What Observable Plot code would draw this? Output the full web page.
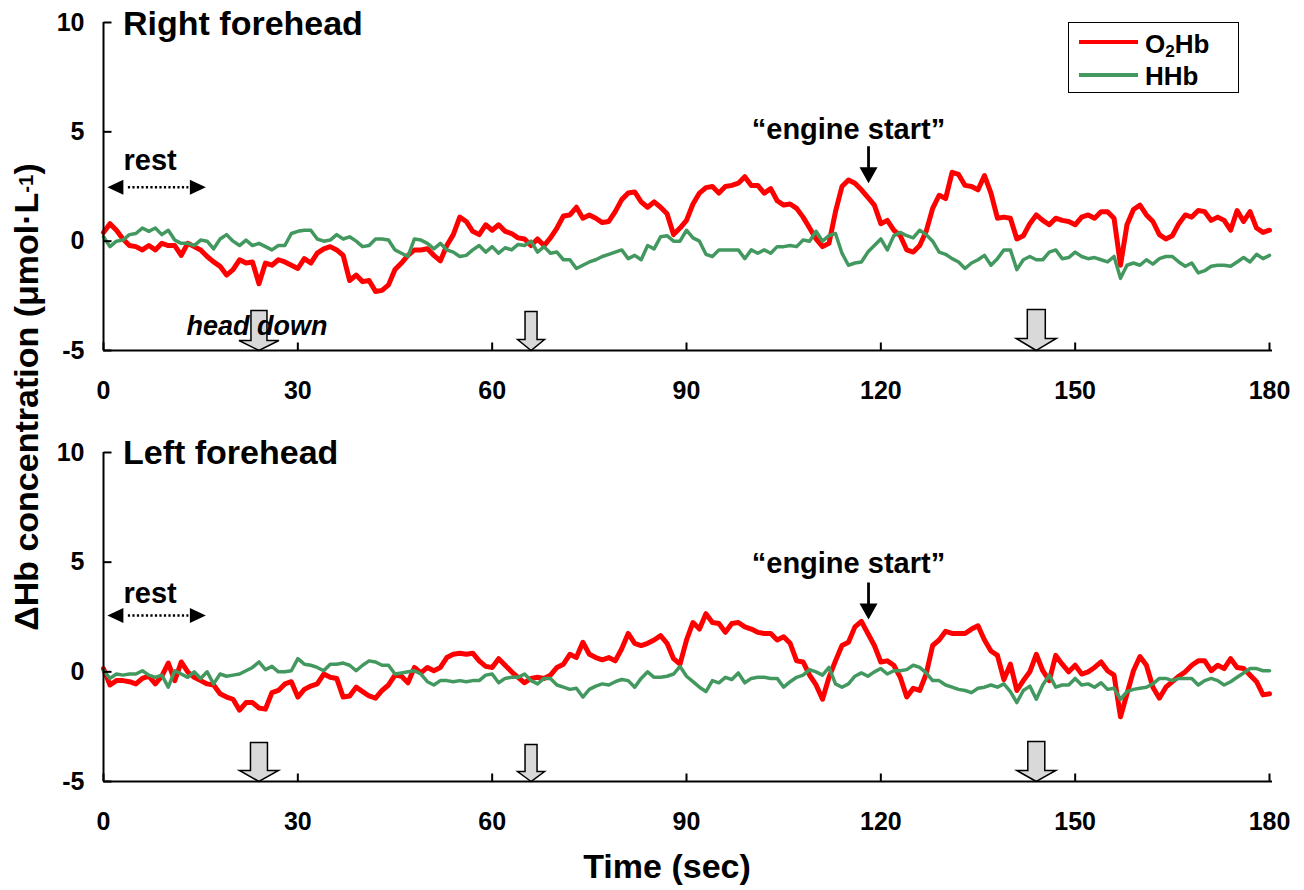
<!DOCTYPE html>
<html>
<head>
<meta charset="utf-8">
<script src="https://cdn.jsdelivr.net/npm/d3@7"></script>
<script src="https://cdn.jsdelivr.net/npm/@observablehq/plot@0.6"></script>
<style>
  body { margin: 0; background: #fff; }
  #wrap { position: relative; width: 1304px; height: 890px; overflow: hidden; background: #fff;
          font-family: 'Liberation Sans', Arial, sans-serif; font-weight: bold; color: #000; }
  #top, #bottom { position: absolute; left: 0; }
  #top { top: 0; }
  #bottom { top: 430px; }
  .lbl { position: absolute; white-space: nowrap; line-height: 1; }
  #ytitle { left: 26px; top: 397px; font-size: 34px; transform: translate(-50%, -50%) rotate(-90deg); }
  #xtitle { left: 667px; top: 866px; font-size: 34px; transform: translate(-50%, -50%); }
  #ytitle sup { font-size: 0.6em; vertical-align: 0.25em; line-height: 0; }
  #legend { position: absolute; left: 1068px; top: 22px; width: 171px; height: 71px; box-sizing: border-box; border: 1.5px solid #000; background: #fff; }
  .sw { position: absolute; }
  .lt { position: absolute; font-size: 26px; transform: translateY(-50%); }
  .lt sub { font-size: 0.66em; vertical-align: -0.25em; line-height: 0; }
</style>
</head>
<body>
<div id="wrap">
  <div id="top"></div>
  <div id="bottom"></div>
  <div class="lbl" id="ytitle">ΔHb concentration (μmol·L<sup>-1</sup>)</div>
  <div class="lbl" id="xtitle">Time (sec)</div>
  <div id="legend"></div>
</div>
<script>
// ---- data (1-second samples) ----
const seconds = d3.range(0, 181);
const xTicks = [0, 30, 60, 90, 120, 150, 180];
const yTicks = [-5, 0, 5, 10];
const headDownTimes = [24, 66, 144];
const panelTitles = ["Right forehead", "Left forehead"];

const rightO2Hb = [
  0.4, 0.8, 0.5, 0.1, -0.2, -0.25, -0.4, -0.2, -0.4, -0.1,
  -0.2, -0.2, -0.65, -0.1, -0.25, -0.4, -0.7, -0.95, -1.15, -1.55,
  -1.3, -0.85, -1.0, -0.95, -1.95, -1.0, -1.1, -0.85, -0.95, -1.1,
  -1.25, -0.8, -1.0, -0.55, -0.35, -0.25, -0.4, -0.65, -1.8, -1.55,
  -1.85, -1.8, -2.3, -2.25, -2.0, -1.3, -1.0, -0.65, -0.4, -0.4,
  -0.35, -0.65, -0.9, -0.2, 0.3, 1.1, 0.9, 0.45, 0.3, 0.75,
  0.5,
  0.75, 0.45, 0.35, 0.15, 0.1, -0.2, 0.1, -0.2, 0.15, 0.6,
  1.15, 1.2, 1.55, 1.05, 1.2, 1.05, 0.85, 0.9, 1.35, 1.9,
  2.2, 2.25, 1.8, 1.55, 1.8, 1.55, 1.25, 0.3, 0.6, 0.95,
  1.7, 2.2, 2.45, 2.5, 2.2, 2.5, 2.55, 2.65, 2.95, 2.55,
  2.55, 2.2, 2.4, 1.85, 1.65, 1.7, 1.5, 1.1, 0.6, 0.1,
  -0.25, -0.1, 1.35, 2.5, 2.8, 2.65, 2.35, 2.0, 1.65, 0.8,
  0.95, 0.5, 0.25, -0.4, -0.5, -0.2, 0.45, 1.5, 2.1, 1.95,
  3.15, 3.05, 2.55, 2.5, 2.35, 3.0, 2.2, 1.05, 1.1, 1.05,
  0.1, 0.25, 0.8, 1.2, 0.95, 0.75, 1.05, 0.95, 0.9, 0.75,
  1.1, 1.2, 1.05, 1.35, 1.35, 1.05, -1.1, 0.75, 1.45, 1.65,
  1.2, 0.9, 0.3, 0.1, 0.25, 0.8, 1.2, 1.1, 1.4, 1.35,
  0.95, 1.1, 0.95, 0.5, 1.4, 0.9, 1.35, 0.6, 0.4, 0.5
];
const rightHHb = [
  0.2, -0.25, 0.0, 0.05, 0.3, 0.35, 0.6, 0.45, 0.6, 0.3,
  0.5, 0.05, -0.1, -0.1, -0.2, 0.05, 0.0, -0.35, 0.1, 0.3,
  0.0, -0.2, 0.05, -0.2, -0.1, -0.25, -0.4, -0.2, -0.2, 0.35,
  0.45, 0.5, 0.5, 0.1, 0.0, 0.05, 0.3, 0.1, 0.2, 0.0,
  -0.25, -0.2, 0.1, 0.1, 0.05, -0.4, -0.55, -0.7, 0.1, 0.05,
  -0.1, -0.35, -0.1, -0.4, -0.5, -0.7, -0.65, -0.4, -0.2, -0.5,
  -0.25,
  -0.55, -0.3, -0.4, -0.15, -0.2, 0.0, -0.5, -0.25, -0.55, -0.5,
  -0.85, -0.85, -1.25, -1.1, -0.95, -0.85, -0.7, -0.6, -0.5, -0.4,
  -0.8, -0.65, -0.85, -0.2, -0.35, 0.2, 0.25, 0.0, 0.0, 0.5,
  0.15, 0.0, -0.6, -0.7, -0.4, -0.4, -0.4, -0.4, -0.8, -0.4,
  -0.55, -0.4, -0.55, -0.25, -0.25, -0.2, -0.25, 0.05, 0.0, 0.45,
  0.0, 0.25, 0.35, -0.55, -1.1, -1.0, -0.95, -0.5, -0.2, 0.1,
  -0.4, 0.25, 0.4, 0.25, 0.15, 0.5, 0.3, 0.0, -0.5, -0.6,
  -0.8, -0.95, -1.25, -1.0, -0.85, -0.65, -1.1, -0.8, -0.4, -0.4,
  -1.3, -0.85, -0.7, -0.85, -0.85, -0.5, -0.4, -0.8, -0.75, -0.5,
  -0.7, -0.8, -0.75, -0.85, -0.95, -0.7, -1.7, -1.1, -1.0, -1.1,
  -0.85, -1.05, -0.8, -0.7, -0.7, -0.95, -1.15, -1.0, -1.45, -1.35,
  -1.15, -1.1, -1.1, -1.15, -0.95, -0.75, -0.95, -0.6, -0.8, -0.65
];
const leftO2Hb = [
  0.15, -0.6, -0.4, -0.4, -0.45, -0.55, -0.3, -0.2, -0.55, -0.2,
  0.4, -0.4, 0.45, 0.0, -0.25, -0.4, -0.55, -0.6, -1.0, -1.15,
  -1.25, -1.75, -1.4, -1.4, -1.65, -1.7, -0.95, -0.85, -0.55, -0.45,
  -1.15, -0.8, -0.65, -0.55, -0.1, -0.25, -0.3, -1.15, -1.1, -0.7,
  -0.9, -1.1, -1.2, -0.85, -0.6, -0.15, -0.2, -0.5, 0.2, -0.05,
  0.2, 0.05, 0.2, 0.65, 0.8, 0.85, 0.8, 0.85, 0.5, 0.25,
  0.2,
  0.6, 0.3, 0.0, -0.25, -0.5, -0.3, -0.25, -0.3, -0.15, 0.2,
  0.35, 0.8, 0.65, 1.35, 0.8, 0.65, 0.55, 0.65, 0.5, 1.05,
  1.75, 1.3, 1.2, 1.3, 1.45, 1.65, 1.3, 0.6, 0.35, 1.45,
  2.25, 1.95, 2.65, 2.25, 2.2, 1.8, 2.2, 2.25, 2.05, 1.95,
  1.8, 1.75, 1.75, 1.45, 1.6, 1.3, 0.5, 0.45, -0.15, -0.6,
  -1.25, -0.25, 0.5, 1.2, 1.35, 2.05, 2.3, 1.75, 1.2, 0.45,
  0.5, 0.3, -0.25, -1.15, -0.75, -0.85, -0.1, 1.2, 1.45, 1.85,
  1.75, 1.75, 1.75, 1.95, 2.1, 1.45, 0.95, 0.75, -0.35, 0.35,
  -0.85, -0.4, 0.0, 0.8, 0.05, -0.4, 0.75, 0.35, 0.0, 0.3,
  -0.1, 0.0, 0.2, 0.45, 0.05, -0.15, -2.05, -1.0, 0.05, 0.7,
  0.3, -0.7, -1.2, -0.7, -0.45, -0.2, 0.0, 0.3, 0.5, 0.5,
  0.05, 0.3, 0.15, 0.6, 0.2, 0.15, -0.15, -0.45, -1.05, -1.0
];
const leftHHb = [
  0.05, -0.3, -0.1, -0.15, -0.1, -0.1, 0.05, -0.15, -0.25, -0.15,
  -0.7, 0.05, -0.1, -0.25, 0.0, -0.3, 0.0, -0.55, -0.1, -0.2,
  -0.15, -0.1, 0.05, 0.2, 0.45, 0.1, 0.25, 0.0, 0.0, 0.05,
  0.6, 0.35, 0.3, 0.2, 0.05, 0.35, 0.35, 0.4, 0.3, 0.05,
  0.3, 0.5, 0.45, 0.3, 0.3, -0.1, -0.05, 0.0, 0.05, -0.1,
  -0.45, -0.6, -0.4, -0.4, -0.45, -0.4, -0.45, -0.4, -0.4, -0.15,
  -0.1,
  -0.5, -0.3, -0.25, -0.25, -0.1, -0.4, -0.55, -0.3, -0.3, -0.6,
  -0.7, -0.8, -0.75, -1.15, -0.8, -0.65, -0.55, -0.6, -0.45, -0.35,
  -0.4, -0.7, -0.3, 0.0, -0.25, -0.25, -0.2, -0.1, 0.25, -0.2,
  -0.45, -0.7, -0.9, -0.4, -0.5, -0.25, -0.35, -0.05, -0.5, -0.3,
  -0.25, -0.25, -0.3, -0.3, -0.7, -0.45, -0.25, -0.15, 0.1, 0.0,
  -0.15, 0.2, -0.55, -0.7, -0.55, -0.2, -0.05, -0.2, 0.0, 0.15,
  -0.1, 0.05, 0.05, 0.1, 0.3, 0.2, -0.05, -0.4, -0.4, -0.6,
  -0.7, -0.8, -0.85, -0.95, -0.75, -0.7, -0.6, -0.7, -0.55, -0.9,
  -1.4, -0.85, -0.65, -1.25, -0.6, -0.15, -0.7, -0.6, -0.6, -0.3,
  -0.6, -0.55, -0.7, -0.5, -0.8, -0.75, -1.25, -0.9, -0.8, -0.75,
  -0.7, -0.55, -0.3, -0.3, -0.4, -0.3, -0.3, -0.3, -0.6, -0.4,
  -0.3, -0.4, -0.6, -0.45, -0.25, -0.05, 0.15, 0.15, 0.05, 0.05
];

// ---- styles ----
const RED = "#ff0000";
const GREEN = "#43985f";
const FONT = "'Liberation Sans', Arial, sans-serif";

const tickShape = {draw(c, l) { c.moveTo(0, 0); c.lineTo(0, -l); }};
const blockArrow = (bh, hh, hl) => ({draw(c, l) {
  c.moveTo(0, -l); c.lineTo(hh, -l + hl); c.lineTo(bh, -l + hl); c.lineTo(bh, 0);
  c.lineTo(-bh, 0); c.lineTo(-bh, -l + hl); c.lineTo(-hh, -l + hl); c.closePath();
}});
const solidArrow = {draw(c, l) {
  const hl = 16, hh = 9, s = 1.4;
  c.moveTo(0, -l); c.lineTo(hh, -l + hl); c.lineTo(s, -l + hl); c.lineTo(s, 0);
  c.lineTo(-s, 0); c.lineTo(-s, -l + hl); c.lineTo(-hh, -l + hl); c.closePath();
}};
const triHead = {draw(c, l) { c.moveTo(0, -l); c.lineTo(7.5, 0); c.lineTo(-7.5, 0); c.closePath(); }};

function panel(cfg) {
  const o2Rows = seconds.map((t, i) => ({t, v: cfg.o2[i]}));
  const hhbRows = seconds.map((t, i) => ({t, v: cfg.hhb[i]}));
  const arrows = headDownTimes.map((t, i) => {
    const a = cfg.arrowDims[i];
    return Plot.vector([t], {x: d => d, y: -5, length: a.l, rotate: 180, anchor: "end",
      shape: blockArrow(a.bh, a.hh, a.hl), fill: "#d9d9d9", stroke: "black", strokeWidth: 1.5, strokeLinejoin: "miter"});
  });
  return Plot.plot({
    width: 1304, height: cfg.height,
    marginLeft: 103, marginRight: 35, marginTop: 22, marginBottom: 70,
    x: {domain: [0, 180]},
    y: {domain: [-5, 10]},
    style: {fontFamily: FONT, fontWeight: "bold", color: "black", background: "white", overflow: "visible"},
    marks: [
      Plot.line(o2Rows, {x: "t", y: "v", stroke: RED, strokeWidth: 5, strokeLinejoin: "round"}),
      Plot.line(hhbRows, {x: "t", y: "v", stroke: GREEN, strokeWidth: 3.5, strokeLinejoin: "round"}),
      ...arrows,
      Plot.ruleY([-5], {x1: 0, x2: 180, insetRight: -3, stroke: "black", strokeWidth: 2}),
      Plot.ruleX([0], {y1: -5, y2: 10, stroke: "black", strokeWidth: 2}),
      Plot.vector(xTicks, {x: d => d, y: -5, length: 8, anchor: "start", shape: tickShape, stroke: "black", strokeWidth: 2, strokeLinecap: "butt"}),
      Plot.vector(yTicks, {x: 0, y: d => d, length: 8, rotate: 90, anchor: "start", shape: tickShape, stroke: "black", strokeWidth: 2, strokeLinecap: "butt"}),
      Plot.axisX({ticks: xTicks, tickSize: 0, tickPadding: 31, tickFormat: d => String(d), fontSize: 25, fontWeight: "bold", label: null}),
      Plot.axisY({ticks: yTicks, tickSize: 0, tickPadding: 19, tickFormat: d => String(d), fontSize: 25, fontWeight: "bold", label: null}),
      // panel title
      Plot.text([cfg.title], {text: d => d, frameAnchor: "top-left", dx: 19.5, dy: cfg.titleDy, textAnchor: "start", lineAnchor: "middle", fontSize: 34, fontWeight: "bold"}),
      // rest annotation
      Plot.text(["rest"], {text: d => d, x: 0, y: cfg.restTextY, dx: 20, textAnchor: "start", lineAnchor: "middle", fontSize: 29, fontWeight: "bold"}),
      Plot.ruleY([cfg.restY], {x1: 0.6, x2: 15.8, insetLeft: 21, insetRight: 17, stroke: "black", strokeWidth: 2.5, strokeDasharray: "2.2,2.3", strokeLinecap: "butt"}),
      Plot.vector([0.6], {x: d => d, y: cfg.restY, length: 16, rotate: -90, anchor: "end", shape: triHead, fill: "black", stroke: "none"}),
      Plot.vector([15.8], {x: d => d, y: cfg.restY, length: 16, rotate: 90, anchor: "end", shape: triHead, fill: "black", stroke: "none"}),
      // engine start annotation
      Plot.text(["\u201Cengine start\u201D"], {text: d => d, x: 115, y: cfg.engineTextY, textAnchor: "middle", lineAnchor: "middle", fontSize: 29, fontWeight: "bold"}),
      Plot.vector([118.1], {x: d => d, y: cfg.engineTipY, length: 37, rotate: 180, anchor: "end", shape: solidArrow, fill: "black", stroke: "none"}),
      ...(cfg.headDown ? [Plot.text(["head down"], {text: d => d, x: 23.7, y: -3.9, textAnchor: "middle", lineAnchor: "middle", fontSize: 27, fontWeight: "bold", fontStyle: "italic"})] : [])
    ]
  });
}

document.getElementById("top").append(panel({
  title: panelTitles[0], o2: rightO2Hb, hhb: rightHHb, height: 420, titleDy: 1.4,
  restTextY: 3.67, restY: 2.46, engineTextY: 5.09, engineTipY: 2.65, headDown: true,
  arrowDims: [{bh: 8, hh: 20, hl: 10, l: 40}, {bh: 6, hh: 13.5, hl: 11, l: 39}, {bh: 9, hh: 20, hl: 12, l: 41}]
}));
document.getElementById("bottom").append(panel({
  title: panelTitles[1], o2: leftO2Hb, hhb: leftHHb, height: 421, titleDy: 0.4,
  restTextY: 3.54, restY: 2.57, engineTextY: 4.92, engineTipY: 2.39, headDown: false,
  arrowDims: [{bh: 8.5, hh: 19.5, hl: 11, l: 39}, {bh: 6, hh: 13.5, hl: 10, l: 37}, {bh: 8.5, hh: 19.5, hl: 11, l: 40}]
}));

// ---- legend ----
const legendItems = [
  {html: "O<sub>2</sub>Hb", color: RED, width: 4.5, y: 42, textY: 44},
  {html: "HHb", color: GREEN, width: 3.5, y: 75, textY: 76}
];
const wrap = document.getElementById("wrap");
legendItems.forEach(it => {
  const sw = document.createElement("div");
  sw.className = "sw";
  Object.assign(sw.style, {left: "1079px", width: "59px", top: (it.y - it.width / 2) + "px", height: it.width + "px", background: it.color});
  wrap.append(sw);
  const tx = document.createElement("div");
  tx.className = "lt";
  tx.innerHTML = it.html;
  Object.assign(tx.style, {left: "1145px", top: it.textY + "px"});
  wrap.append(tx);
});
</script>
</body>
</html>
